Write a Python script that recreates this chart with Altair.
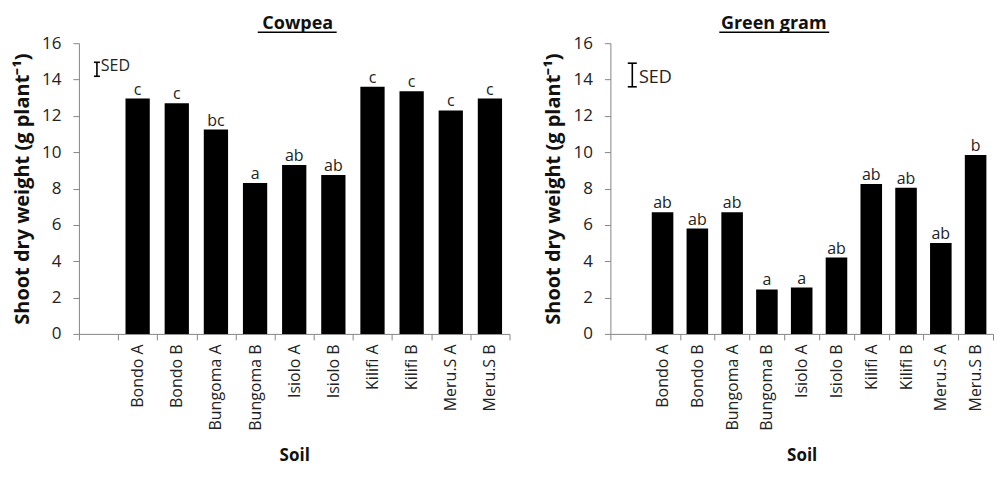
import altair as alt
import pandas as pd

soils = ["Bondo A", "Bondo B", "Bungoma A", "Bungoma B", "Isiolo A",
         "Isiolo B", "Kilifi A", "Kilifi B", "Meru.S A", "Meru.S B"]
domain = [" "] + soils

cowpea = [12.95, 12.7, 11.25, 8.3, 9.3, 8.75, 13.6, 13.35, 12.3, 12.95]
cowpea_letters = ["c", "c", "bc", "a", "ab", "ab", "c", "c", "c", "c"]
cowpea_sed = [14.18, 14.95]

green = [6.7, 5.8, 6.7, 2.45, 2.55, 4.2, 8.25, 8.05, 5.0, 9.85]
green_letters = ["ab", "ab", "ab", "a", "a", "ab", "ab", "ab", "ab", "b"]
green_sed = [13.6, 14.9]

FONT = "Open Sans"
AX = "#868686"


def panel(title, values, letters, sed, width, sed_band, txt_band, txt_y,
          title_dx, ul, sed_size, sed_tick):
    bw = width / len(domain)
    d = (sed_tick / 2) / bw
    df = pd.DataFrame({"soil": soils, "w": values, "lab": letters})
    sdf = pd.DataFrame({"soil": [" "], "lo": [sed[0]], "hi": [sed[1]],
                        "ty": [txt_y], "t": ["SED"]})
    xs = alt.Scale(domain=domain, paddingInner=0, paddingOuter=0)
    ys = alt.Scale(domain=[0, 16], nice=False)
    xax = alt.Axis(title="Soil", labelAngle=-90, labelAlign="right",
                   labelBaseline="middle", tickBand="extent", tickSize=6,
                   labelPadding=4, labelFontSize=16, titleFontSize=17,
                   titleFontWeight="bold", titlePadding=17, domainColor=AX,
                   tickColor=AX, labelColor="#222", titleColor="#111")
    yax = alt.Axis(title="Shoot dry weight (g plant⁻¹)",
                   values=list(range(0, 17, 2)), grid=False, tickSize=6,
                   labelPadding=12, labelFontSize=17, titleFontSize=20,
                   titleFontWeight="bold", titlePadding=9, domainColor=AX,
                   tickColor=AX, labelColor="#222", titleColor="#111",
                   labelOverlap=False)
    X = lambda bp=0.5: alt.X("soil:N", scale=xs, axis=xax, sort=domain,
                             bandPosition=bp)
    base = alt.Chart(df)
    bars = base.mark_bar(color="black", width={"band": 0.62}).encode(
        x=X(), y=alt.Y("w:Q", scale=ys, axis=yax),
    )
    txt = base.mark_text(baseline="bottom", dy=-1, fontSize=16,
                         color="#222").encode(
        x=X(), y=alt.Y("w:Q", scale=ys, axis=yax), text="lab:N")
    sb = alt.Chart(sdf)
    sed_rule = sb.mark_rule(color="black", strokeWidth=1.6).encode(
        x=X(sed_band), y=alt.Y("lo:Q", scale=ys, axis=yax), y2="hi:Q")
    cap1 = sb.mark_rule(color="black", strokeWidth=1.6).encode(
        x=X(sed_band - d), x2=alt.X2("soil:N", bandPosition=sed_band + d),
        y=alt.Y("lo:Q", scale=ys, axis=yax))
    cap2 = sb.mark_rule(color="black", strokeWidth=1.6).encode(
        x=X(sed_band - d), x2=alt.X2("soil:N", bandPosition=sed_band + d),
        y=alt.Y("hi:Q", scale=ys, axis=yax))
    sed_txt = sb.mark_text(align="left", baseline="alphabetic",
                           fontSize=sed_size, color="#222").encode(
        x=X(txt_band), y=alt.Y("ty:Q", scale=ys, axis=yax), text="t:N")
    underline = sb.mark_rule(color="black", strokeWidth=1.5).encode(
        x=alt.value(ul[0]), x2=alt.value(ul[1]), y=alt.value(-11))
    return alt.layer(bars, txt, sed_rule, cap1, cap2, sed_txt, underline).properties(
        width=width, height=291,
        title=alt.TitleParams(text=title, fontSize=18, fontWeight="bold",
                              font=FONT, dx=title_dx, offset=-2,
                              frame="group", anchor="middle", color="#111"),
    )


left = panel("Cowpea", cowpea, cowpea_letters, cowpea_sed, 431,
             0.46, 0.56, 14.45, 3.5, (179, 258), 16, 6)
right = panel("Green gram", green, green_letters, green_sed, 383,
              0.63, 0.82, 13.8, -28, (109, 219), 18, 9)

chart = alt.hconcat(left, right, spacing=33).properties(
    padding={"left": 4, "top": 7, "right": 0, "bottom": 10}
).configure(font=FONT).configure_view(stroke=None)

chart.save("out.html", embed_options={"renderer": "svg", "actions": False})
